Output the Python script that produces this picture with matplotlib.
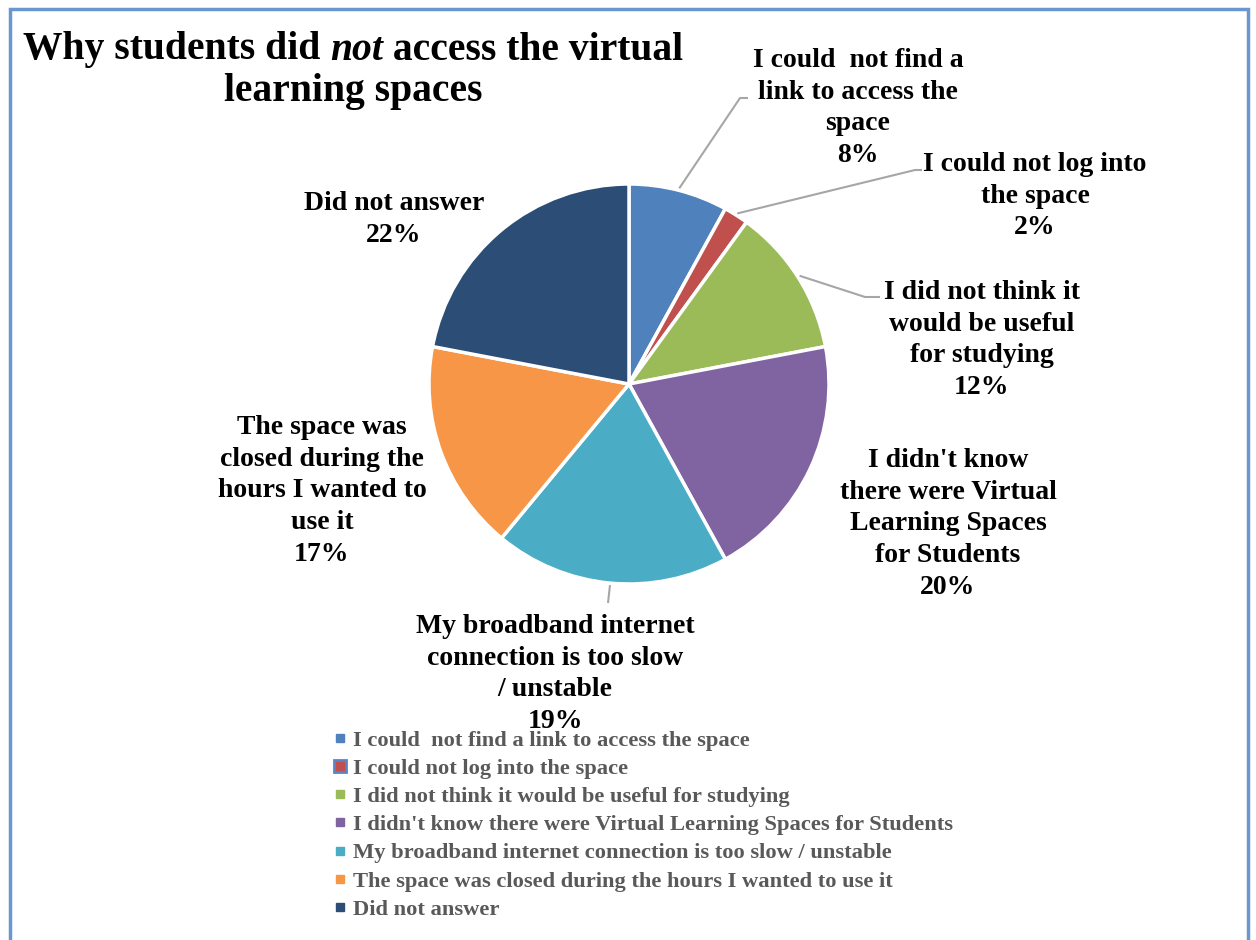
import numpy as np
import matplotlib.pyplot as plt
from matplotlib.lines import Line2D

# Survey responses (percent of students)
reasons = [
    "I could  not find a link to access the space",
    "I could not log into the space",
    "I did not think it would be useful for studying",
    "I didn't know there were Virtual Learning Spaces for Students",
    "My broadband internet connection is too slow / unstable",
    "The space was closed during the hours I wanted to use it",
    "Did not answer",
]
pct = [8, 2, 12, 20, 19, 17, 22]
slice_labels = [
    "I could  not find a\nlink to access the\nspace",
    "I could not log into\nthe space",
    "I did not think it\nwould be useful\nfor studying",
    "I didn't know\nthere were Virtual\nLearning Spaces\nfor Students",
    "My broadband internet\nconnection is too slow\n/ unstable",
    "The space was\nclosed during the\nhours I wanted to\nuse it",
    "Did not answer",
]
colors = ["#4F81BD", "#C0504D", "#9BBB59", "#8064A2", "#4BACC6", "#F79646", "#2C4D75"]

W, H = 1256, 940
FONT = "Liberation Serif"

fig = plt.figure(figsize=(W / 100, H / 100), dpi=100)
ax = fig.add_axes([0, 0, 1, 1])

# pixel helper: y measured from the top
def py(y):
    return H - y

cx, cy, R = 629, py(384), 200
wedges, _ = ax.pie(pct, colors=colors, startangle=90, counterclock=False,
                   center=(cx, cy), radius=R, frame=True,
                   wedgeprops=dict(edgecolor="white", linewidth=2.5))
ax.set_xlim(0, W)
ax.set_ylim(0, H)
ax.set_aspect("equal")
ax.axis("off")

# label centre (x, y of first line) and leader-line elbow per slice
label_pos = [(858, 58), (1035, 162), (982, 290), (948, 458), (555, 624), (322, 425), (394, 201)]
leaders = {
    0: [(740, 98), (748, 98)],
    1: [(915, 170), (922, 170)],
    2: [(865, 297), (880, 297)],
    4: [(608, 603)],
}

lab_fs = 20
for i, (w, txt) in enumerate(zip(wedges, slice_labels)):
    x, y = label_pos[i]
    ax.text(x, py(y - 10), f"{txt}\n{pct[i]}%", ha="center", va="top",
            fontsize=lab_fs, fontweight="bold", family=FONT,
            linespacing=1.35, color="black")
    if i in leaders:
        mid = np.deg2rad((w.theta1 + w.theta2) / 2)
        px = [cx + R * 1.01 * np.cos(mid)] + [p[0] for p in leaders[i]]
        pys = [cy + R * 1.01 * np.sin(mid)] + [py(p[1]) for p in leaders[i]]
        ax.plot(px, pys, color="#A6A6A6", lw=1.5, solid_capstyle="butt")

# title with italic "not"
title_fs = 28.5
parts = [("Why students did ", "normal"), ("not", "italic"), (" access the virtual", "normal")]
fig.canvas.draw()
renderer = fig.canvas.get_renderer()
texts = []
for s, st in parts:
    t = ax.text(0, py(50), s, fontsize=title_fs, fontweight="bold", style=st,
                family=FONT, ha="left", va="center")
    texts.append(t)
widths = [t.get_window_extent(renderer).width for t in texts]
x0 = 353 - sum(widths) / 2
for t, wd in zip(texts, widths):
    t.set_x(x0)
    x0 += wd
ax.text(353, py(92), "learning spaces", fontsize=title_fs, fontweight="bold",
        family=FONT, ha="center", va="center")

# legend
handles = []
for i, c in enumerate(colors):
    if i == 1:
        handles.append(Line2D([], [], ls="", marker="s", ms=9, mfc=c,
                              mec="#5B84C4", mew=2))
    else:
        handles.append(Line2D([], [], ls="", marker="s", ms=6, mfc=c, mec=c))
leg = ax.legend(handles, reasons, loc="upper left",
                bbox_to_anchor=(325 / W, 1 - 721 / H), bbox_transform=fig.transFigure,
                frameon=False, handlelength=0.55, handletextpad=0.3,
                labelspacing=0.33, borderaxespad=0,
                prop=dict(family=FONT, weight="bold", size=16.2))
for t in leg.get_texts():
    t.set_color("#595959")

# outer border (open at the bottom)
ax.plot([10, 10, 1248, 1248], [0, py(9), py(9), 0], color="#6A97D0", lw=2.5,
        solid_joinstyle="miter")

fig.savefig("out.png", dpi=100)
